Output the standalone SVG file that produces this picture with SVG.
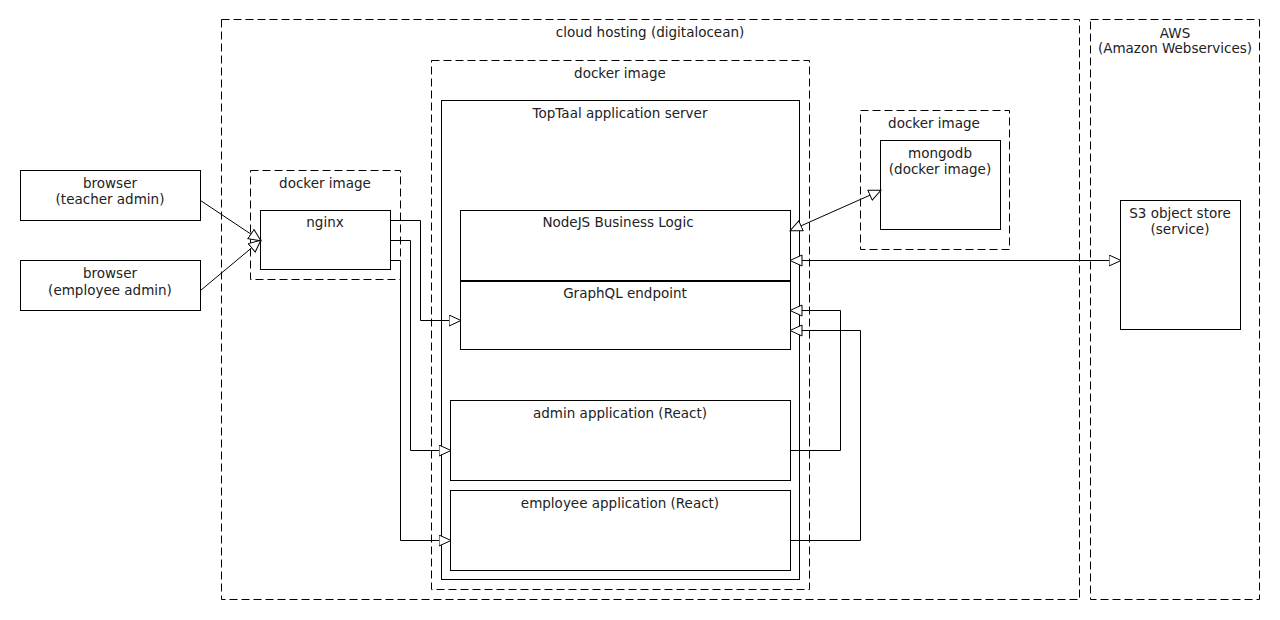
<svg xmlns="http://www.w3.org/2000/svg" width="1280" height="620" viewBox="0 0 1280 620">
<style>
.bg{fill:#ffffff}
.dash{fill:none;stroke:#000;stroke-width:1;stroke-dasharray:8 4}
.box{fill:#ffffff;stroke:#000;stroke-width:1}
.t{font-family:"DejaVu Sans","Liberation Sans",sans-serif;font-size:13.5px;fill:#222;text-anchor:middle}
.c{fill:none;stroke:#000;stroke-width:1}
</style>
<defs>
<marker id="arr" markerUnits="userSpaceOnUse" markerWidth="14" markerHeight="13" refX="12" refY="6" orient="auto-start-reverse" viewBox="0 0 14 13">
<path d="M0.5,0.5 L12.5,6 L0.5,11.5 Z" fill="#fff" stroke="#000" stroke-width="1"/>
</marker>
</defs>
<rect class="bg" x="0" y="0" width="1280" height="620"/>
<g id="cloud">
<rect class="dash" x="221.5" y="19.5" width="858" height="580"/>
<text class="t" x="650" y="37">cloud hosting (digitalocean)</text>
</g>
<g id="aws">
<rect class="dash" x="1090.5" y="19.5" width="169" height="580"/>
<text class="t" x="1175" y="38">AWS</text>
<text class="t" x="1175" y="53">(Amazon Webservices)</text>
</g>
<g id="browser-teacher">
<rect class="box" x="20.5" y="170.5" width="180" height="50"/>
<text class="t" x="110" y="188">browser</text>
<text class="t" x="110" y="204">(teacher admin)</text>
</g>
<g id="browser-employee">
<rect class="box" x="20.5" y="260.5" width="180" height="50"/>
<text class="t" x="110" y="278">browser</text>
<text class="t" x="110" y="295">(employee admin)</text>
</g>
<g id="docker-nginx">
<rect class="dash" x="250.5" y="170.5" width="150" height="109"/>
<text class="t" x="325" y="188">docker image</text>
</g>
<g id="nginx">
<rect class="box" x="260.5" y="210.5" width="130" height="59"/>
<text class="t" x="325" y="227">nginx</text>
</g>
<g id="docker-app">
<rect class="dash" x="431.5" y="60.5" width="378" height="529"/>
<text class="t" x="620" y="78">docker image</text>
</g>
<g id="app-server">
<rect class="box" x="441.5" y="100.5" width="358" height="479"/>
<text class="t" x="620" y="118">TopTaal application server</text>
</g>
<g id="nodejs">
<rect class="box" x="460.5" y="210.5" width="330" height="70"/>
<text class="t" x="618" y="227">NodeJS Business Logic</text>
</g>
<g id="graphql">
<rect class="box" x="460.5" y="281.5" width="330" height="68"/>
<text class="t" x="625" y="298">GraphQL endpoint</text>
</g>
<g id="admin-app">
<rect class="box" x="450.5" y="400.5" width="340" height="80"/>
<text class="t" x="620" y="418">admin application (React)</text>
</g>
<g id="employee-app">
<rect class="box" x="450.5" y="490.5" width="340" height="80"/>
<text class="t" x="620" y="508">employee application (React)</text>
</g>
<g id="docker-mongo">
<rect class="dash" x="860.5" y="110.5" width="149" height="139"/>
<text class="t" x="934" y="128">docker image</text>
</g>
<g id="mongodb">
<rect class="box" x="880.5" y="140.5" width="120" height="89"/>
<text class="t" x="940" y="158">mongodb</text>
<text class="t" x="940" y="174">(docker image)</text>
</g>
<g id="s3">
<rect class="box" x="1120.5" y="200.5" width="120" height="129"/>
<text class="t" x="1180" y="218">S3 object store</text>
<text class="t" x="1180" y="234">(service)</text>
</g>
<g id="connectors">
<path class="c" d="M200.5,200.5 L260.5,240.5" marker-end="url(#arr)"/>
<path class="c" d="M200.5,290.5 L260.5,240.5" marker-end="url(#arr)"/>
<path class="c" d="M390.5,220.5 H420.5 V320.5 H460.5" marker-end="url(#arr)"/>
<path class="c" d="M390.5,240.5 H410.5 V450.5 H450.5" marker-end="url(#arr)"/>
<path class="c" d="M390.5,260.5 H400.5 V540.5 H450.5" marker-end="url(#arr)"/>
<path class="c" d="M790.5,230.5 L880.5,190.5" marker-start="url(#arr)" marker-end="url(#arr)"/>
<path class="c" d="M790.5,260.5 H1120.5" marker-start="url(#arr)" marker-end="url(#arr)"/>
<path class="c" d="M790.5,450.5 H840.5 V310.5 H790.5" marker-end="url(#arr)"/>
<path class="c" d="M790.5,540.5 H860.5 V330.5 H790.5" marker-end="url(#arr)"/>
</g>
</svg>
